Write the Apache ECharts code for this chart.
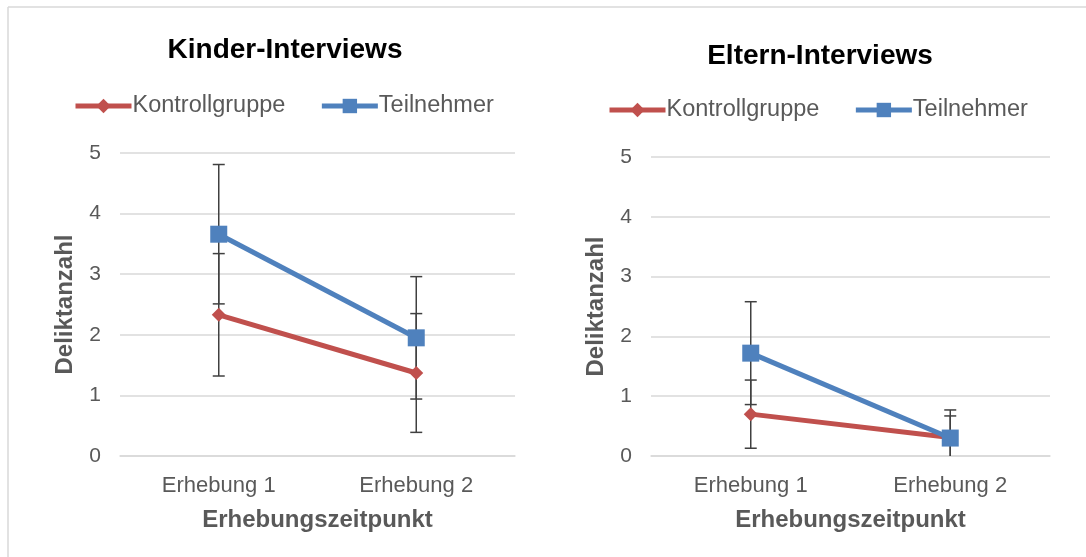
<!DOCTYPE html>
<html>
<head>
<meta charset="utf-8">
<title>Kinder- und Eltern-Interviews</title>
<script src="https://cdn.jsdelivr.net/npm/echarts@6/dist/echarts.min.js"></script>
<style>
  html, body { margin: 0; padding: 0; background: #fff; }
  #chart { width: 1086px; height: 557px; }
</style>
</head>
<body>
<div id="chart"></div>
<script>
const categories = ['Erhebung 1', 'Erhebung 2'];
const seriesNames = ['Kontrollgruppe', 'Teilnehmer'];
const yTicks = [0, 1, 2, 3, 4, 5];

// Kinder-Interviews
const kinderKontroll = [2.33, 1.37];
const kinderKontrollErr = [1.01, 0.98];
const kinderTeilnehmer = [3.66, 1.95];
const kinderTeilnehmerErr = [1.15, 1.01];

// Eltern-Interviews
const elternKontroll = [0.70, 0.31];
const elternKontrollErr = [0.57, 0.36];
const elternTeilnehmer = [1.72, 0.30];
const elternTeilnehmerErr = [0.86, 0.47];

const FONT = '"Liberation Sans", Arial, sans-serif';
const RED = '#c0504d';
const BLUE = '#4f81bd';
const GRAY = '#595959';

const chart = echarts.init(document.getElementById('chart'));

function errorSeries(values, errs, idx) {
  return {
    type: 'custom',
    xAxisIndex: idx,
    yAxisIndex: idx,
    clip: true,
    z: 1,
    silent: true,
    data: values.map((v, i) => [i, v, errs[i]]),
    renderItem(params, api) {
      const x = api.value(0);
      const y = api.value(1);
      const e = api.value(2);
      const top = api.coord([x, y + e]);
      const bot = api.coord([x, y - e]);
      const cap = 6;
      const style = { stroke: '#404040', lineWidth: 1.5 };
      return {
        type: 'group',
        children: [
          { type: 'line', shape: { x1: top[0], y1: top[1], x2: bot[0], y2: bot[1] }, style },
          { type: 'line', shape: { x1: top[0] - cap, y1: top[1], x2: top[0] + cap, y2: top[1] }, style },
          { type: 'line', shape: { x1: bot[0] - cap, y1: bot[1], x2: bot[0] + cap, y2: bot[1] }, style },
        ],
      };
    },
  };
}

function lineSeries(name, values, idx, color, symbol, size) {
  return {
    name,
    type: 'line',
    xAxisIndex: idx,
    yAxisIndex: idx,
    data: values,
    symbol,
    symbolSize: size,
    showSymbol: true,
    z: 3,
    lineStyle: { color, width: 5 },
    itemStyle: { color },
  };
}

const xAxisBase = {
  type: 'category',
  data: categories,
  axisTick: { show: false },
  axisLine: { show: true, lineStyle: { color: '#d9d9d9', width: 1.5 } },
  axisLabel: { color: GRAY, fontSize: 22, fontFamily: FONT, margin: 19 },
  name: 'Erhebungszeitpunkt',
  nameLocation: 'middle',
  nameGap: 52,
  nameTextStyle: { color: GRAY, fontSize: 24, fontWeight: 'bold', fontFamily: FONT },
};

const yAxisBase = {
  type: 'value',
  min: yTicks[0],
  max: yTicks[yTicks.length - 1],
  interval: 1,
  axisTick: { show: false },
  axisLine: { show: false },
  axisLabel: { color: GRAY, fontSize: 21, fontFamily: FONT, margin: 19 },
  splitLine: { lineStyle: { color: '#d9d9d9', width: 1.5 } },
  name: 'Deliktanzahl',
  nameLocation: 'middle',
  nameRotate: 90,
  nameGap: 43,
  nameTextStyle: { color: GRAY, fontSize: 24, fontWeight: 'bold', fontFamily: FONT },
};

const legendBase = {
  data: seriesNames,
  itemWidth: 56,
  itemHeight: 18,
  itemGap: 34,
  lineStyle: { width: 5 },
  textStyle: { color: GRAY, fontSize: 23.5, fontFamily: FONT, padding: [0, 0, 0, -4] },
};

chart.setOption({
  animation: false,
  textStyle: { fontFamily: FONT },
  graphic: [
    { type: 'line', shape: { x1: 8, y1: 7, x2: 1086, y2: 7 }, style: { stroke: '#d9d9d9', lineWidth: 1.5 } },
    { type: 'line', shape: { x1: 8, y1: 7, x2: 8, y2: 557 }, style: { stroke: '#d9d9d9', lineWidth: 1.5 } },
  ],
  title: [
    {
      text: 'Kinder-Interviews',
      left: 280,
      top: 31,
      textAlign: 'center',
      textStyle: { color: '#000', fontSize: 28, fontWeight: 'bold', fontFamily: FONT },
    },
    {
      text: 'Eltern-Interviews',
      left: 815,
      top: 37,
      textAlign: 'center',
      textStyle: { color: '#000', fontSize: 28, fontWeight: 'bold', fontFamily: FONT },
    },
  ],
  legend: [
    Object.assign({ left: 68, top: 89 }, legendBase),
    Object.assign({ left: 602, top: 93 }, legendBase),
  ],
  grid: [
    { left: 120, right: 571, top: 153, bottom: 101 },
    { left: 651, right: 36, top: 157, bottom: 101 },
  ],
  xAxis: [
    Object.assign({ gridIndex: 0 }, xAxisBase),
    Object.assign({ gridIndex: 1 }, xAxisBase),
  ],
  yAxis: [
    Object.assign({ gridIndex: 0 }, yAxisBase),
    Object.assign({ gridIndex: 1 }, yAxisBase),
  ],
  series: [
    errorSeries(kinderKontroll, kinderKontrollErr, 0),
    errorSeries(kinderTeilnehmer, kinderTeilnehmerErr, 0),
    lineSeries('Kontrollgruppe', kinderKontroll, 0, RED, 'diamond', 14),
    lineSeries('Teilnehmer', kinderTeilnehmer, 0, BLUE, 'rect', 17),
    errorSeries(elternKontroll, elternKontrollErr, 1),
    errorSeries(elternTeilnehmer, elternTeilnehmerErr, 1),
    lineSeries('Kontrollgruppe', elternKontroll, 1, RED, 'diamond', 14),
    lineSeries('Teilnehmer', elternTeilnehmer, 1, BLUE, 'rect', 17),
  ],
});
</script>
</body>
</html>
